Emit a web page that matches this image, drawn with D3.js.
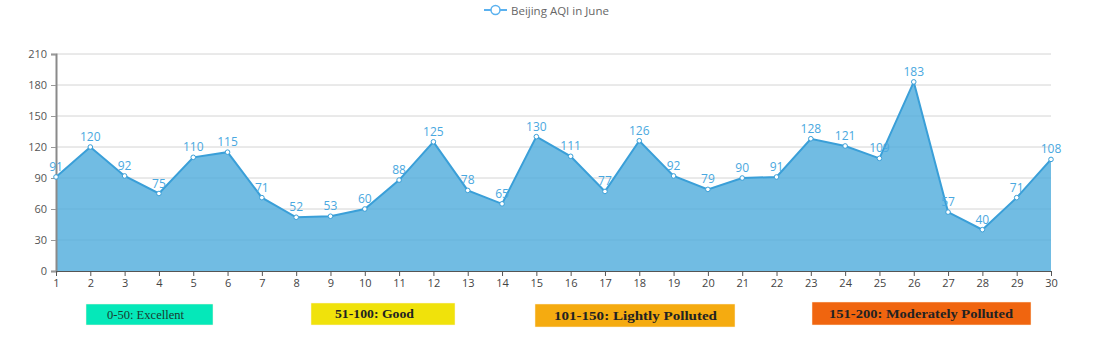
<!DOCTYPE html>
<html><head><meta charset="utf-8">
<script src="https://cdn.jsdelivr.net/npm/d3@7"></script>
<style>body{margin:0;background:#fff}svg{display:block}</style>
</head><body>
<svg id="c" width="1093" height="339"></svg>
<script>
const days = d3.range(1, 31);
const aqi = [91,120,92,75,110,115,71,52,53,60,88,125,78,65,130,111,77,126,92,79,90,91,128,121,109,183,57,40,71,108];
const yTicks = [0,30,60,90,120,150,180,210];
const seriesName = "Beijing AQI in June";
const bandLabels = ["0-50: Excellent","51-100: Good","101-150: Lightly Polluted","151-200: Moderately Polluted"];
const bandColors = ["#05e8b9","#f0e20b","#f5ab10","#f0650f"];

const svg = d3.select("#c");
const L = 56, R = 1051, T = 54, B = 271;
const x = d3.scaleLinear().domain([1,30]).range([L,R]);
const y = d3.scaleLinear().domain([0,210]).range([B,T]);

// grid
svg.append("g").selectAll("line").data(yTicks.slice(1)).join("line")
  .attr("x1",L).attr("x2",R).attr("y1",d=>y(d)).attr("y2",d=>y(d))
  .attr("stroke","#d4d4d4").attr("stroke-width",1);

// area
svg.append("path").datum(aqi)
  .attr("d", d3.area().x((d,i)=>x(days[i])).y0(y(0)).y1(d=>y(d)))
  .attr("fill","#4eabdc").attr("fill-opacity",0.8);
svg.append("path").datum(aqi)
  .attr("d", d3.line().x((d,i)=>x(days[i])).y(d=>y(d)))
  .attr("fill","none").attr("stroke","#3a9fd8").attr("stroke-width",2);

// axes
const ya = svg.append("g").attr("transform",`translate(${L},0)`)
  .call(d3.axisLeft(y).tickValues(yTicks).tickSize(5).tickPadding(4));
ya.select(".domain").attr("stroke","#8a8a8a").attr("stroke-width",2);
ya.selectAll(".tick line").attr("stroke","#999");
ya.selectAll("text").attr("fill","#555").attr("font-size",11).attr("font-family","'Open Sans', sans-serif");

const xa = svg.append("g").attr("transform",`translate(0,${B})`)
  .call(d3.axisBottom(x).tickValues(days).tickFormat(d3.format("d")).tickSize(5).tickSizeOuter(0).tickPadding(3));
xa.select(".domain").attr("stroke","#555");
xa.selectAll(".tick line").attr("stroke","#555");
xa.selectAll("text").attr("fill","#444").attr("font-size",11).attr("font-family","'Open Sans', sans-serif");

// points
svg.append("g").selectAll("circle").data(aqi).join("circle")
  .attr("cx",(d,i)=>x(days[i])).attr("cy",d=>y(d)).attr("r",2.3)
  .attr("fill","#fff").attr("stroke","#3a9fd8").attr("stroke-width",1);

// labels
svg.append("g").selectAll("text").data(aqi).join("text")
  .attr("x",(d,i)=>x(days[i])).attr("y",d=>y(d)-6)
  .attr("text-anchor","middle").attr("font-size",12)
  .attr("font-family","'Open Sans', sans-serif").attr("fill","#4aa8e0")
  .text(d=>d);

// legend
const lg = svg.append("g");
lg.append("line").attr("x1",484).attr("x2",507).attr("y1",10).attr("y2",10).attr("stroke","#5ab1ef").attr("stroke-width",2);
lg.append("circle").attr("cx",495.5).attr("cy",10).attr("r",4.5).attr("fill","#fff").attr("stroke","#5ab1ef").attr("stroke-width",1.5);
lg.append("text").attr("x",511).attr("y",14.5).attr("font-size",11.5).attr("fill","#666")
  .attr("font-family","'Open Sans', sans-serif").text(seriesName);

// band boxes
const boxes = [
  {x:86,y:304,w:127,h:21,tx:107,tw:77,fs:12},
  {x:311,y:303,w:144,h:22,tx:335,tw:79,fs:13},
  {x:535,y:304,w:200,h:23,tx:554,tw:163,fs:13},
  {x:812,y:302,w:219,h:23,tx:829,tw:184,fs:13}
];
const bg = svg.append("g").selectAll("g").data(bandLabels).join("g");
bg.append("rect").attr("x",(d,i)=>boxes[i].x).attr("y",(d,i)=>boxes[i].y)
  .attr("width",(d,i)=>boxes[i].w).attr("height",(d,i)=>boxes[i].h)
  .attr("fill",(d,i)=>bandColors[i]).attr("stroke","#fff3e0").attr("stroke-width",0.5);
bg.append("text").attr("x",(d,i)=>boxes[i].tx).attr("y",(d,i)=>boxes[i].y+boxes[i].h/2+4)
  .attr("font-size",(d,i)=>boxes[i].fs).attr("font-family","'Liberation Serif', serif")
  .attr("textLength",(d,i)=>boxes[i].tw).attr("lengthAdjust","spacingAndGlyphs")
  .attr("fill",(d,i)=>i===0?"#1a3a30":"#222").attr("font-weight",(d,i)=>i===0?"normal":"bold")
  .text(d=>d);
</script>
</body></html>
